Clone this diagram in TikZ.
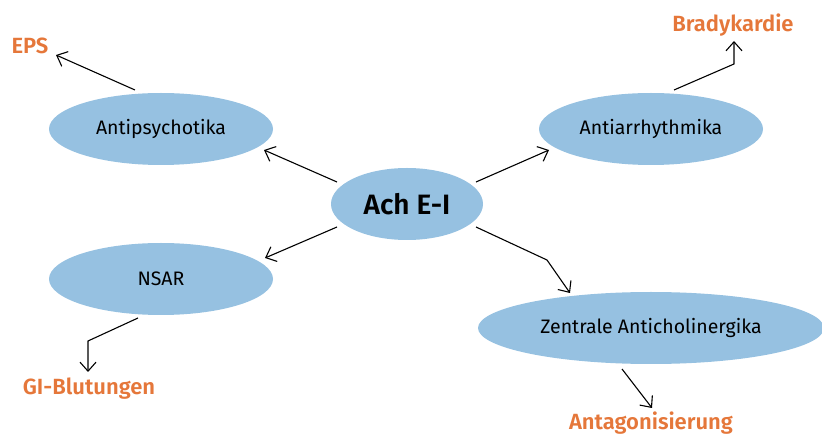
\documentclass[tikz,border=0pt]{standalone}
\usepackage{fontspec}
\setmainfont{Fira Sans}[BoldFont={Fira Sans SemiBold}]
\usetikzlibrary{shapes.geometric,arrows.meta}
\definecolor{ellblue}{HTML}{96C1E1}
\definecolor{lblorange}{HTML}{E5773A}
\tikzset{
  ell/.style={ellipse, fill=ellblue, draw=none, inner sep=0pt, font=\fontsize{19.5}{22}\selectfont, text=black},
  eff/.style={text=lblorange, font=\fontsize{22}{26}\selectfont\bfseries, inner sep=0pt},
  conn/.style={draw=black, line width=1.1pt, -{Straight Barb[length=9pt,width=16pt,line width=1.1pt]}}
}
\begin{document}
\begin{tikzpicture}[x=1pt,y=-1pt]
\useasboundingbox (0,0) rectangle (822,435);
\node[ell, minimum width=152pt, minimum height=72pt, font=\fontsize{28}{32}\selectfont\bfseries] (ach) at (407,204) {Ach E-I};
\node[ell, minimum width=224pt, minimum height=72pt] (anti) at (161,129) {Antipsychotika};
\node[ell, minimum width=224pt, minimum height=72pt] (arr) at (651,129) {Antiarrhythmika};
\node[ell, minimum width=224pt, minimum height=72pt] (nsar) at (161,279) {NSAR};
\node[ell, minimum width=346pt, minimum height=72pt] (zen) at (651,328) {Zentrale Anticholinergika};
\node[eff] (eps) at (30,46) {EPS};
\node[eff] (bra) at (733,25) {Bradykardie};
\node[eff] (gi) at (89,389) {GI-Blutungen};
\node[eff] (ant) at (651,423) {Antagonisierung};
% coordinates
\coordinate (a1) at (337,182);
\coordinate (a2) at (476,182);
\coordinate (a3) at (337,227);
\coordinate (a4) at (476,227);
\coordinate (t1) at (264,150);
\coordinate (t2) at (549,150);
\coordinate (t3) at (265,258);
\coordinate (k4) at (547,260);
\coordinate (t4) at (570,293);
\coordinate (e1) at (135,90);
\coordinate (te1) at (56,55);
\coordinate (b1) at (674,90);
\coordinate (kb) at (734,64);
\coordinate (tb) at (734,41);
\coordinate (g1) at (138,318);
\coordinate (kg) at (88,341);
\coordinate (tg) at (88,372);
\coordinate (z1) at (622,369);
\coordinate (tz) at (652,408);
\draw[conn] (a1) -- (t1);
\draw[conn] (a2) -- (t2);
\draw[conn] (a3) -- (t3);
\draw[conn] (a4) -- (k4) -- (t4);
\draw[conn] (e1) -- (te1);
\draw[conn] (b1) -- (kb) -- (tb);
\draw[conn] (g1) -- (kg) -- (tg);
\draw[conn] (z1) -- (tz);
\end{tikzpicture}
\end{document}
